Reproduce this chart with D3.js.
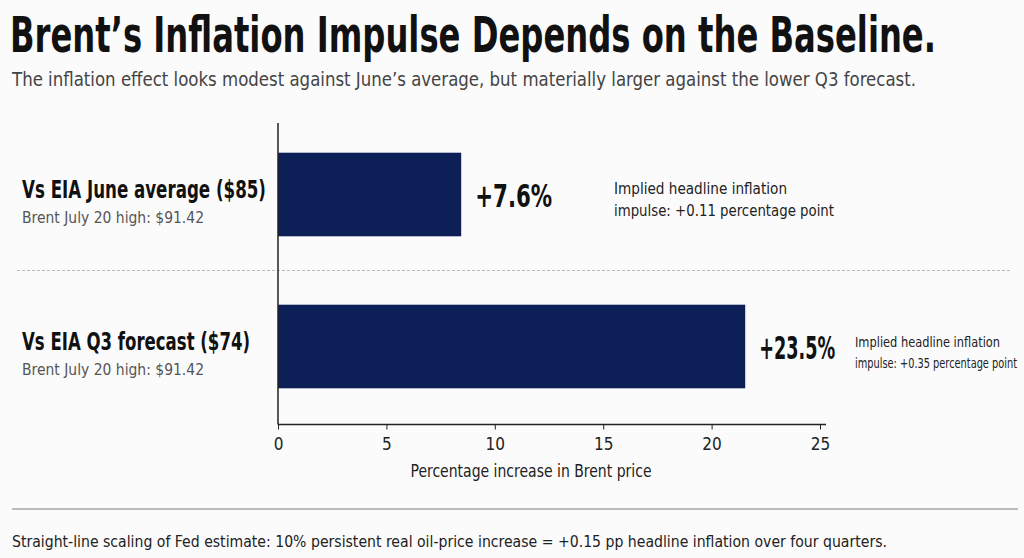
<!DOCTYPE html>
<html lang="en">
<head>
<meta charset="UTF-8">
<title>Brent's Inflation Impulse</title>
<script src="https://d3js.org/d3.v7.min.js"></script>
<style>
    body { margin: 0; background: #fbfbfb; }
    svg { display: block; }
    .narrow { font-family: "Liberation Sans Narrow", "DejaVu Sans Condensed", "Roboto", sans-serif; }
    .axis text { font-family: "Liberation Sans Narrow", "DejaVu Sans Condensed", sans-serif; font-size: 17px; fill: #222; }
    .axis line { stroke: #222; }
</style>
</head>
<body>
<script>
    // data
    const categories = ["Vs EIA June average ($85)", "Vs EIA Q3 forecast ($74)"];
    const subLabels = ["Brent July 20 high: $91.42", "Brent July 20 high: $91.42"];
    const barValues = [8.45, 21.55];
    const valueLabels = ["+7.6%", "+23.5%"];
    const noteLine1 = ["Implied headline inflation", "Implied headline inflation"];
    const noteLine2 = ["impulse: +0.11 percentage point", "impulse: +0.35 percentage point"];
    const xTicks = [0, 5, 10, 15, 20, 25];

    const width = 1024, height = 558;
    const margin = {top: 118.5, bottom: 135.5, left: 278, right: 204};

    const svg = d3.select("body").append("svg")
        .attr("width", width).attr("height", height);

    svg.append("rect").attr("width", width).attr("height", height).attr("fill", "#fbfbfb");

    // squeeze the condensed fallback font to the reference widths
    const fit = (sel, w) => sel.attr("textLength", w).attr("lengthAdjust", "spacingAndGlyphs");

    // title + subtitle
    svg.append("text").attr("class", "narrow")
        .attr("x", 10).attr("y", 52)
        .attr("font-size", 50).attr("font-weight", "bold").attr("fill", "#111")
        .call(fit, 926)
        .text("Brent\u2019s Inflation Impulse Depends on the Baseline.");
    svg.append("text").attr("class", "narrow")
        .attr("x", 12).attr("y", 86)
        .attr("font-size", 20).attr("fill", "#444")
        .call(fit, 904)
        .text("The inflation effect looks modest against June\u2019s average, but materially larger against the lower Q3 forecast.");

    // scales
    const x = d3.scaleLinear().domain([0, 25]).range([margin.left, width - margin.right]);
    const y = d3.scaleBand().domain(categories)
        .range([margin.top, height - margin.bottom])
        .paddingInner(0.45).paddingOuter(0.225);

    // separator between rows
    const sepY = (y(categories[0]) + y.bandwidth() + y(categories[1])) / 2;
    svg.append("line")
        .attr("x1", 17).attr("x2", 1010).attr("y1", sepY).attr("y2", sepY)
        .attr("stroke", "#bbb").attr("stroke-width", 1.2).attr("stroke-dasharray", "3,2");

    // bars
    svg.append("g").selectAll("rect")
        .data(categories)
        .enter().append("rect")
        .attr("x", x(0))
        .attr("y", d => y(d))
        .attr("width", (d, i) => x(barValues[i]) - x(0))
        .attr("height", y.bandwidth())
        .attr("fill", "#0c1f56");

    // axes
    const axisY = height - margin.bottom + 2;
    const xAxis = d3.axisBottom(x).tickValues(xTicks).tickSize(5).tickSizeOuter(0).tickPadding(8);
    const gx = svg.append("g").attr("class", "axis")
        .attr("transform", `translate(0,${axisY})`)
        .call(xAxis);
    gx.select(".domain").remove();
    gx.append("line")
        .attr("x1", x(0)).attr("x2", x(25) + 6).attr("y1", 0).attr("y2", 0)
        .attr("stroke", "#222").attr("stroke-width", 1.5);
    svg.append("line")
        .attr("x1", x(0)).attr("x2", x(0)).attr("y1", 123).attr("y2", axisY)
        .attr("stroke", "#222").attr("stroke-width", 1.5);

    svg.append("text").attr("class", "narrow")
        .attr("x", 531).attr("y", 477)
        .attr("text-anchor", "middle").attr("font-size", 18).attr("fill", "#222")
        .call(fit, 241)
        .text("Percentage increase in Brent price");

    // row labels
    const rows = svg.append("g").selectAll("g")
        .data(categories)
        .enter().append("g");

    const labelW = [244, 228];
    rows.append("text").attr("class", "narrow")
        .attr("x", 22).attr("y", d => y(d) + y.bandwidth() / 2 + 3)
        .attr("font-size", 25).attr("font-weight", "bold").attr("fill", "#111")
        .attr("textLength", (d, i) => labelW[i]).attr("lengthAdjust", "spacingAndGlyphs")
        .text(d => d);
    rows.append("text").attr("class", "narrow")
        .attr("x", 22).attr("y", d => y(d) + y.bandwidth() / 2 + 28)
        .attr("font-size", 16.5).attr("fill", "#555")
        .call(fit, 182)
        .text((d, i) => subLabels[i]);

    // value labels
    const valueW = [77, 76];
    rows.append("text").attr("class", "narrow")
        .attr("x", (d, i) => x(barValues[i]) + 14)
        .attr("y", d => y(d) + y.bandwidth() / 2 + 12)
        .attr("font-size", 32).attr("font-weight", "bold").attr("fill", "#111")
        .attr("textLength", (d, i) => valueW[i]).attr("lengthAdjust", "spacingAndGlyphs")
        .text((d, i) => valueLabels[i]);

    // annotations
    const noteX = [614, 855];
    const noteSize = [16, 14.5];
    const note1W = [173, 145];
    const note2W = [220, 162];
    rows.append("text").attr("class", "narrow")
        .attr("x", (d, i) => noteX[i])
        .attr("y", (d, i) => y(d) + y.bandwidth() / 2 + (i === 0 ? -1 : 0))
        .attr("font-size", (d, i) => noteSize[i]).attr("fill", "#222")
        .attr("textLength", (d, i) => note1W[i]).attr("lengthAdjust", "spacingAndGlyphs")
        .text((d, i) => noteLine1[i]);
    rows.append("text").attr("class", "narrow")
        .attr("x", (d, i) => noteX[i])
        .attr("y", (d, i) => y(d) + y.bandwidth() / 2 + 21)
        .attr("font-size", (d, i) => noteSize[i]).attr("fill", "#222")
        .attr("textLength", (d, i) => note2W[i]).attr("lengthAdjust", "spacingAndGlyphs")
        .text((d, i) => noteLine2[i]);

    // footer
    svg.append("line")
        .attr("x1", 12).attr("x2", 1018).attr("y1", 509).attr("y2", 509)
        .attr("stroke", "#bbb").attr("stroke-width", 2);
    svg.append("text").attr("class", "narrow")
        .attr("x", 12).attr("y", 547)
        .attr("font-size", 15).attr("fill", "#222")
        .call(fit, 875)
        .text("Straight-line scaling of Fed estimate: 10% persistent real oil-price increase = +0.15 pp headline inflation over four quarters.");
</script>
</body>
</html>
